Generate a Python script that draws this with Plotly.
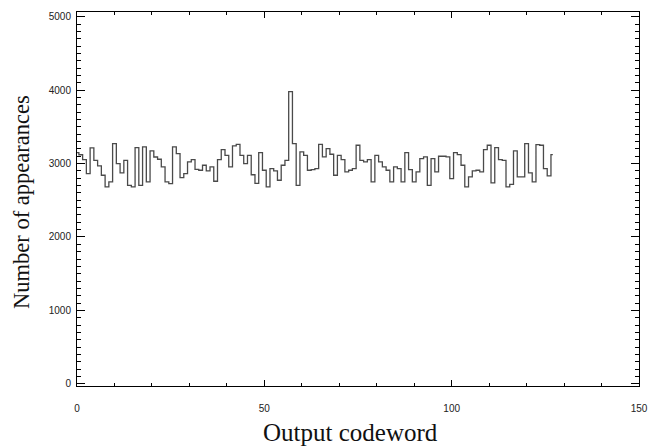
import plotly.graph_objects as go

codeword = list(range(128))
appearances = [
    3150, 3120, 3054, 2864, 3213, 3045, 2968, 2841, 2682, 2750,
    3272, 3000, 2873, 3045, 2704, 2682, 3218, 2704, 3227, 2750,
    3172, 3090, 3059, 2955, 2750, 2727, 3227, 3136, 2809, 2864,
    3023, 3054, 2922, 2909, 2977, 2900, 2955, 2759, 3054, 3190,
    3113, 2954, 3240, 3263, 3113, 3000, 3113, 2848, 2730, 3149,
    2909, 2682, 2932, 2900, 2773, 2977, 3045, 3980, 3272, 2704,
    3159, 3113, 2909, 2918, 2932, 3263, 3091, 3204, 3127, 2841,
    3113, 3054, 2886, 2909, 2932, 3250, 3045, 3023, 3054, 2750,
    3113, 3023, 2955, 2909, 2750, 2955, 2932, 2750, 3149, 2918,
    2750, 2886, 3068, 3091, 2704, 3068, 2886, 3100, 3100, 3091,
    2795, 3149, 3122, 2977, 2682, 2818, 2900, 2909, 2886, 3190,
    3250, 2736, 3218, 3054, 3045, 2682, 2718, 3172, 2818, 2818,
    3272, 2873, 2750, 3259, 3250, 2932, 2832, 3122,
]
x_ticks = [0, 50, 100, 150]
y_ticks = [0, 1000, 2000, 3000, 4000, 5000]
x_title = "Output codeword"
y_title = "Number of appearances"

fig = go.Figure(go.Scatter(
    x=codeword, y=appearances, mode="lines",
    line=dict(shape="hvh", color="#4a4a4a", width=1.3),
    showlegend=False, hoverinfo="skip",
))

tickfont = dict(family="Liberation Sans, Arial, sans-serif", size=10, color="#222")
serif = "Liberation Serif, Times New Roman, serif"

# The page body has an 8px margin, so the figure is sized to fit the window.
fig.update_layout(
    width=655, height=438,
    margin=dict(l=69, r=24, t=4, b=60, autoexpand=False),
    paper_bgcolor="white", plot_bgcolor="white",
    xaxis=dict(
        range=[0, 150], tickvals=x_ticks, ticktext=[str(v) for v in x_ticks],
        ticks="inside", ticklen=6, tickwidth=1, tickcolor="black",
        minor=dict(dtick=10, ticks="inside", ticklen=3, tickwidth=1, tickcolor="black"),
        showline=True, linecolor="black", linewidth=1, mirror="ticks",
        showgrid=False, zeroline=False, tickfont=tickfont, ticklabelstandoff=13,
        automargin=False,
    ),
    yaxis=dict(
        range=[-30, 5065], tickvals=y_ticks, ticktext=[str(v) for v in y_ticks],
        ticks="inside", ticklen=8, tickwidth=1, tickcolor="black",
        minor=dict(dtick=100, ticks="inside", ticklen=4, tickwidth=1, tickcolor="black"),
        showline=True, linecolor="black", linewidth=1, mirror="ticks",
        showgrid=False, zeroline=False, tickfont=tickfont, ticklabelstandoff=3,
        automargin=False,
    ),
    annotations=[
        dict(text=x_title, xref="paper", yref="paper", x=0.486, y=-0.123,
             xanchor="center", yanchor="middle", showarrow=False,
             font=dict(family=serif, size=25, color="#111")),
        dict(text=y_title, xref="paper", yref="paper", x=-0.098, y=0.492,
             xanchor="center", yanchor="middle", showarrow=False, textangle=-90,
             font=dict(family=serif, size=22.5, color="#111")),
    ],
)

fig.write_html("out.html")
